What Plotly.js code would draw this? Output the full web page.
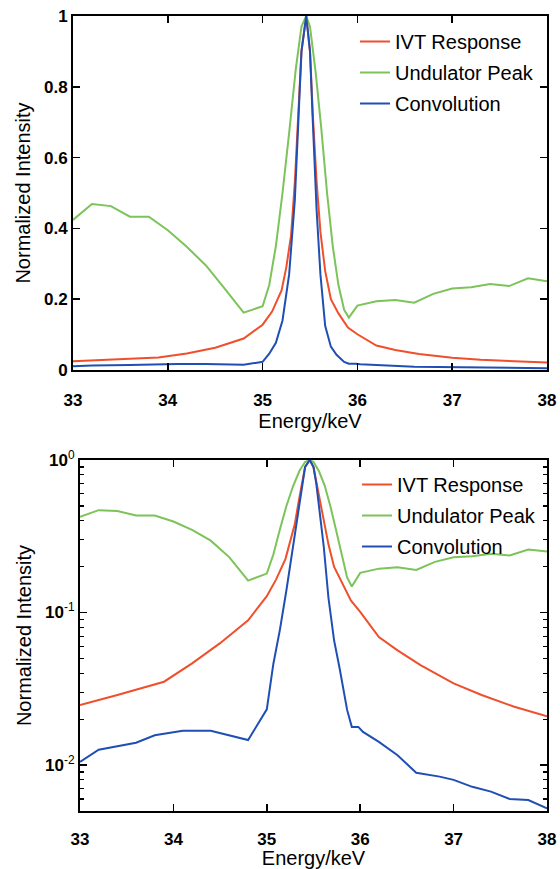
<!DOCTYPE html>
<html>
<head>
<meta charset="utf-8">
<script src="https://cdn.plot.ly/plotly-3.0.1.min.js"></script>
<style>html,body{margin:0;padding:0;background:#fff;}#chart{width:560px;height:869px;}</style>
</head>
<body>
<div id="chart"></div>
<script>
// Series data (energy in keV, normalized intensity)
const energyIVT = [33.0, 33.4, 33.9, 34.2, 34.5, 34.8, 35.0, 35.1, 35.2, 35.25, 35.3, 35.34, 35.38, 35.41, 35.46, 35.5, 35.53, 35.57, 35.61, 35.66, 35.72, 35.8, 35.9, 36.0, 36.2, 36.4, 36.65, 37.0, 37.3, 37.65, 38.0];
const ivtResponse = [0.0248, 0.0288, 0.0352, 0.0464, 0.063, 0.089, 0.128, 0.165, 0.225, 0.29, 0.38, 0.53, 0.72, 0.90, 1.0, 0.90, 0.72, 0.53, 0.39, 0.28, 0.2, 0.16, 0.12, 0.101, 0.069, 0.0565, 0.045, 0.0343, 0.0288, 0.0241, 0.0209];

const energyUnd = [33.0, 33.2, 33.4, 33.6, 33.8, 34.0, 34.2, 34.4, 34.6, 34.8, 35.0, 35.07, 35.14, 35.21, 35.28, 35.35, 35.41, 35.46, 35.5, 35.56, 35.62, 35.68, 35.74, 35.8, 35.86, 35.91, 36.0, 36.2, 36.4, 36.6, 36.8, 37.0, 37.2, 37.4, 37.6, 37.8, 38.0];
const undulatorPeak = [0.424, 0.469, 0.463, 0.433, 0.433, 0.395, 0.348, 0.296, 0.23, 0.162, 0.18, 0.24, 0.35, 0.5, 0.67, 0.85, 0.97, 1.0, 0.97, 0.84, 0.68, 0.5, 0.35, 0.24, 0.17, 0.148, 0.182, 0.194, 0.198, 0.19, 0.215, 0.23, 0.234, 0.243, 0.237, 0.259, 0.251];

const energyConv = [33.0, 33.2, 33.6, 33.8, 34.1, 34.4, 34.8, 35.0, 35.07, 35.14, 35.21, 35.28, 35.34, 35.38, 35.41, 35.46, 35.5, 35.53, 35.57, 35.61, 35.66, 35.72, 35.78, 35.86, 35.91, 35.98, 36.03, 36.2, 36.4, 36.6, 36.85, 37.0, 37.2, 37.4, 37.6, 37.8, 38.0];
const convolution = [0.0105, 0.0126, 0.014, 0.0157, 0.0168, 0.0168, 0.0146, 0.0232, 0.046, 0.077, 0.14, 0.27, 0.48, 0.72, 0.9, 1.0, 0.9, 0.7, 0.45, 0.27, 0.125, 0.066, 0.043, 0.023, 0.0178, 0.0178, 0.0165, 0.0142, 0.0116, 0.0089, 0.0084, 0.008, 0.0072, 0.0067, 0.006, 0.0059, 0.0052];

const seriesNames = ['IVT Response', 'Undulator Peak', 'Convolution'];
const xTicks = [33, 34, 35, 36, 37, 38];
const xTickText = ['33', '34', '35', '36', '37', '38'];
const yTicksLin = [0, 0.2, 0.4, 0.6, 0.8, 1];
const yTickTextLin = ['0', '0.2', '0.4', '0.6', '0.8', '1'];
const yTicksLog = [0.01, 0.1, 1];
const yTickBaseLog = ['10', '10', '10'];
const yTickExpLog = ['-2', '-1', '0'];
const yMinorLog = [0.005, 0.006, 0.007, 0.008, 0.009, 0.02, 0.03, 0.04, 0.05, 0.06, 0.07, 0.08, 0.09, 0.2, 0.3, 0.4, 0.5, 0.6, 0.7, 0.8, 0.9];

const colors = ['#ef4f2b', '#7cc35a', '#1f4fb4'];
const xs = [energyIVT, energyUnd, energyConv];
const ys = [ivtResponse, undulatorPeak, convolution];

const bold = a => a.map(t => '<b>' + t + '</b>');
const FONT = 'Liberation Sans, Arial, Helvetica, sans-serif';
const traces = [];
for (let i = 0; i < 3; i++) {
  traces.push({x: xs[i], y: ys[i], type: 'scatter', mode: 'lines', name: seriesNames[i],
    line: {color: colors[i], width: 2}, xaxis: 'x', yaxis: 'y', legend: 'legend', legendgroup: 'a' + i});
}
for (let i = 0; i < 3; i++) {
  traces.push({x: xs[i], y: ys[i], type: 'scatter', mode: 'lines', name: seriesNames[i],
    line: {color: colors[i], width: 2}, xaxis: 'x2', yaxis: 'y2', legend: 'legend2', legendgroup: 'b' + i});
}

const H = 869, W = 560;
const common = {showline: true, linewidth: 2, linecolor: 'black', mirror: 'ticks', ticks: 'inside',
  tickwidth: 1.5, tickcolor: 'black', showgrid: false, zeroline: false};
const tickFont = {family: FONT, size: 17, color: 'black'};
const titleFont = {family: FONT, size: 20, color: 'black'};

const layout = {
  width: W, height: H,
  margin: {l: 0, r: 0, t: 0, b: 0},
  paper_bgcolor: 'white', plot_bgcolor: 'white',
  font: {family: FONT, color: 'black'},
  xaxis: Object.assign({}, common, {domain: [73 / W, 547 / W], anchor: 'y', range: [33, 38],
    tickmode: 'array', tickvals: xTicks, ticktext: bold(xTickText), ticklen: 7, tickfont: tickFont,
    ticklabelstandoff: 14,
    title: {text: 'Energy/keV', font: titleFont, standoff: 4}}),
  yaxis: Object.assign({}, common, {domain: [(H - 370) / H, (H - 16) / H], anchor: 'x', range: [0, 1],
    tickmode: 'array', tickvals: yTicksLin, ticktext: bold(yTickTextLin), ticklen: 7, tickfont: tickFont,
    title: {text: 'Normalized Intensity', font: titleFont, standoff: 8}}),
  xaxis2: Object.assign({}, common, {domain: [80 / W, 547 / W], anchor: 'y2', range: [33, 38],
    tickmode: 'array', tickvals: xTicks, ticktext: bold(xTickText), ticklen: 7, tickfont: tickFont,
    ticklabelstandoff: 12,
    title: {text: 'Energy/keV', font: titleFont, standoff: 2}}),
  yaxis2: Object.assign({}, common, {domain: [(H - 811) / H, (H - 460) / H], anchor: 'x2', type: 'log',
    range: [Math.log10(0.005), 0], tickmode: 'array', tickvals: yTicksLog,
    ticktext: yTickBaseLog.map((b, i) => '<b>' + b + '</b><sup>' + yTickExpLog[i] + '</sup>'),
    ticklen: 7, tickfont: tickFont,
    minor: {tickmode: 'array', tickvals: yMinorLog, ticks: 'inside', ticklen: 4, tickwidth: 1.2, tickcolor: 'black', showgrid: false},
    title: {text: 'Normalized Intensity', font: titleFont, standoff: 8}}),
  legend: {x: 355 / W, y: (H - 22) / H, xanchor: 'left', yanchor: 'top', bgcolor: 'rgba(0,0,0,0)',
    font: {family: FONT, size: 20, color: 'black'}, tracegroupgap: 2},
  legend2: {x: 357 / W, y: (H - 465) / H, xanchor: 'left', yanchor: 'top', bgcolor: 'rgba(0,0,0,0)',
    font: {family: FONT, size: 20, color: 'black'}, tracegroupgap: 2}
};

Plotly.newPlot('chart', traces, layout, {displayModeBar: false, staticPlot: true});
</script>
</body>
</html>
